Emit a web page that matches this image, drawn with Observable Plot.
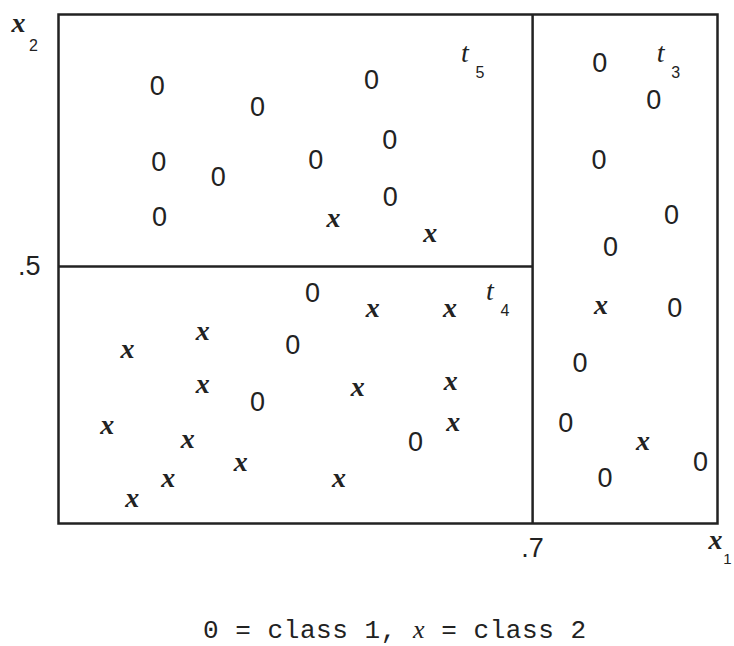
<!DOCTYPE html>
<html>
<head>
<meta charset="utf-8">
<script src="https://cdn.jsdelivr.net/npm/d3@7"></script>
<script src="https://cdn.jsdelivr.net/npm/@observablehq/plot@0.6"></script>
<style>
  body { margin: 0; background: #fff; }
  #caption { font-family: "Liberation Mono", "DejaVu Sans Mono", monospace; font-size: 26px; line-height: 30px; margin-top: 35px; margin-left: 203px; letter-spacing: 0.55px; color: #222; white-space: pre; }
  #caption i { font-family: "Liberation Serif", serif; }
</style>
</head>
<body>
<div id="chart"></div>
<div id="caption">0 = class 1, <i>x</i> = class 2</div>
<script>
// class 1 points (drawn as "0")
const class1X = [0.146, 0.294, 0.148, 0.236, 0.380, 0.149, 0.462, 0.489, 0.490,
                 0.799, 0.879, 0.798, 0.905, 0.815, 0.910, 0.770, 0.749, 0.948, 0.807,
                 0.375, 0.346, 0.294, 0.527];
const class1Y = [0.850, 0.809, 0.702, 0.673, 0.706, 0.595, 0.862, 0.745, 0.634,
                 0.895, 0.823, 0.706, 0.599, 0.537, 0.418, 0.311, 0.195, 0.119, 0.088,
                 0.447, 0.346, 0.235, 0.158];
// class 2 points (drawn as "x")
const class2X = [0.406, 0.549, 0.464, 0.578, 0.579, 0.583, 0.801, 0.863, 0.213,
                 0.102, 0.213, 0.442, 0.072, 0.191, 0.269, 0.162, 0.414, 0.109];
const class2Y = [0.595, 0.564, 0.420, 0.420, 0.278, 0.198, 0.424, 0.161, 0.375,
                 0.340, 0.272, 0.265, 0.191, 0.165, 0.119, 0.088, 0.088, 0.049];
// split values
const splitX1 = 0.7;
const splitX2 = 0.5;
// terminal node labels
const nodeNames = ["t", "t", "t"];
const nodeSubs = ["5", "3", "4"];
const nodeX = [0.600, 0.889, 0.637];
const nodeY = [0.916, 0.916, 0.453];
// tick labels
const xTicks = [0.7], xTickLabels = [".7"];
const yTicks = [0.5], yTickLabels = [".5"];

const class1 = class1X.map((x, i) => ({x, y: class1Y[i]}));
const class2 = class2X.map((x, i) => ({x, y: class2Y[i]}));
const nodes = nodeNames.map((n, i) => ({name: n, sub: nodeSubs[i], x: nodeX[i], y: nodeY[i]}));

const ink = "#222";
const sans = "'Liberation Sans', Arial, sans-serif";
const serif = "'Liberation Serif', serif";

const chart = Plot.plot({
  width: 734,
  height: 580,
  marginLeft: 58,
  marginRight: 17,
  marginTop: 14,
  marginBottom: 57,
  style: {fontFamily: sans, fontSize: "27px", color: ink, background: "#fff", overflow: "visible"},
  x: {domain: [0, 0.973], ticks: xTicks, tickFormat: (d) => xTickLabels[xTicks.indexOf(d)], tickSize: 0, tickPadding: 14, label: null},
  y: {domain: [0, 0.99], ticks: yTicks, tickFormat: (d) => yTickLabels[yTicks.indexOf(d)], tickSize: 0, tickPadding: 18, label: null},
  marks: [
    Plot.frame({stroke: ink, strokeWidth: 2.5}),
    Plot.ruleX([splitX1], {stroke: ink, strokeWidth: 2.5}),
    Plot.ruleY([splitX2], {x1: 0, x2: splitX1, stroke: ink, strokeWidth: 2.5}),
    Plot.text(class1, {x: "x", y: "y", text: () => "0", fontSize: 27, fill: ink, fontFamily: sans}),
    Plot.text(class2, {x: "x", y: "y", text: () => "x", fontSize: 28, fontStyle: "italic", fill: ink, fontFamily: serif, fontWeight: "bold"}),
    Plot.text(nodes, {x: "x", y: "y", text: "name", fontSize: 28, fontStyle: "italic", fill: ink, fontFamily: serif}),
    Plot.text(nodes, {x: "x", y: "y", text: "sub", dx: 15, dy: 20, fontSize: 16, fill: ink, fontFamily: sans}),
    // axis variable names
    Plot.text(["x"], {frameAnchor: "top-left", textAnchor: "middle", lineAnchor: "middle", dx: -40, dy: 9, fontSize: 28, fontStyle: "italic", fontWeight: "bold", fontFamily: serif, fill: ink}),
    Plot.text(["2"], {frameAnchor: "top-left", textAnchor: "middle", lineAnchor: "middle", dx: -25, dy: 31, fontSize: 16, fontFamily: sans, fill: ink}),
    Plot.text(["x"], {frameAnchor: "bottom-right", textAnchor: "middle", lineAnchor: "middle", dx: -2, dy: 17, fontSize: 28, fontStyle: "italic", fontWeight: "bold", fontFamily: serif, fill: ink}),
    Plot.text(["1"], {frameAnchor: "bottom-right", textAnchor: "middle", lineAnchor: "middle", dx: 10, dy: 36, fontSize: 15, fontFamily: sans, fill: ink})
  ]
});
document.getElementById("chart").appendChild(chart);
</script>
</body>
</html>
